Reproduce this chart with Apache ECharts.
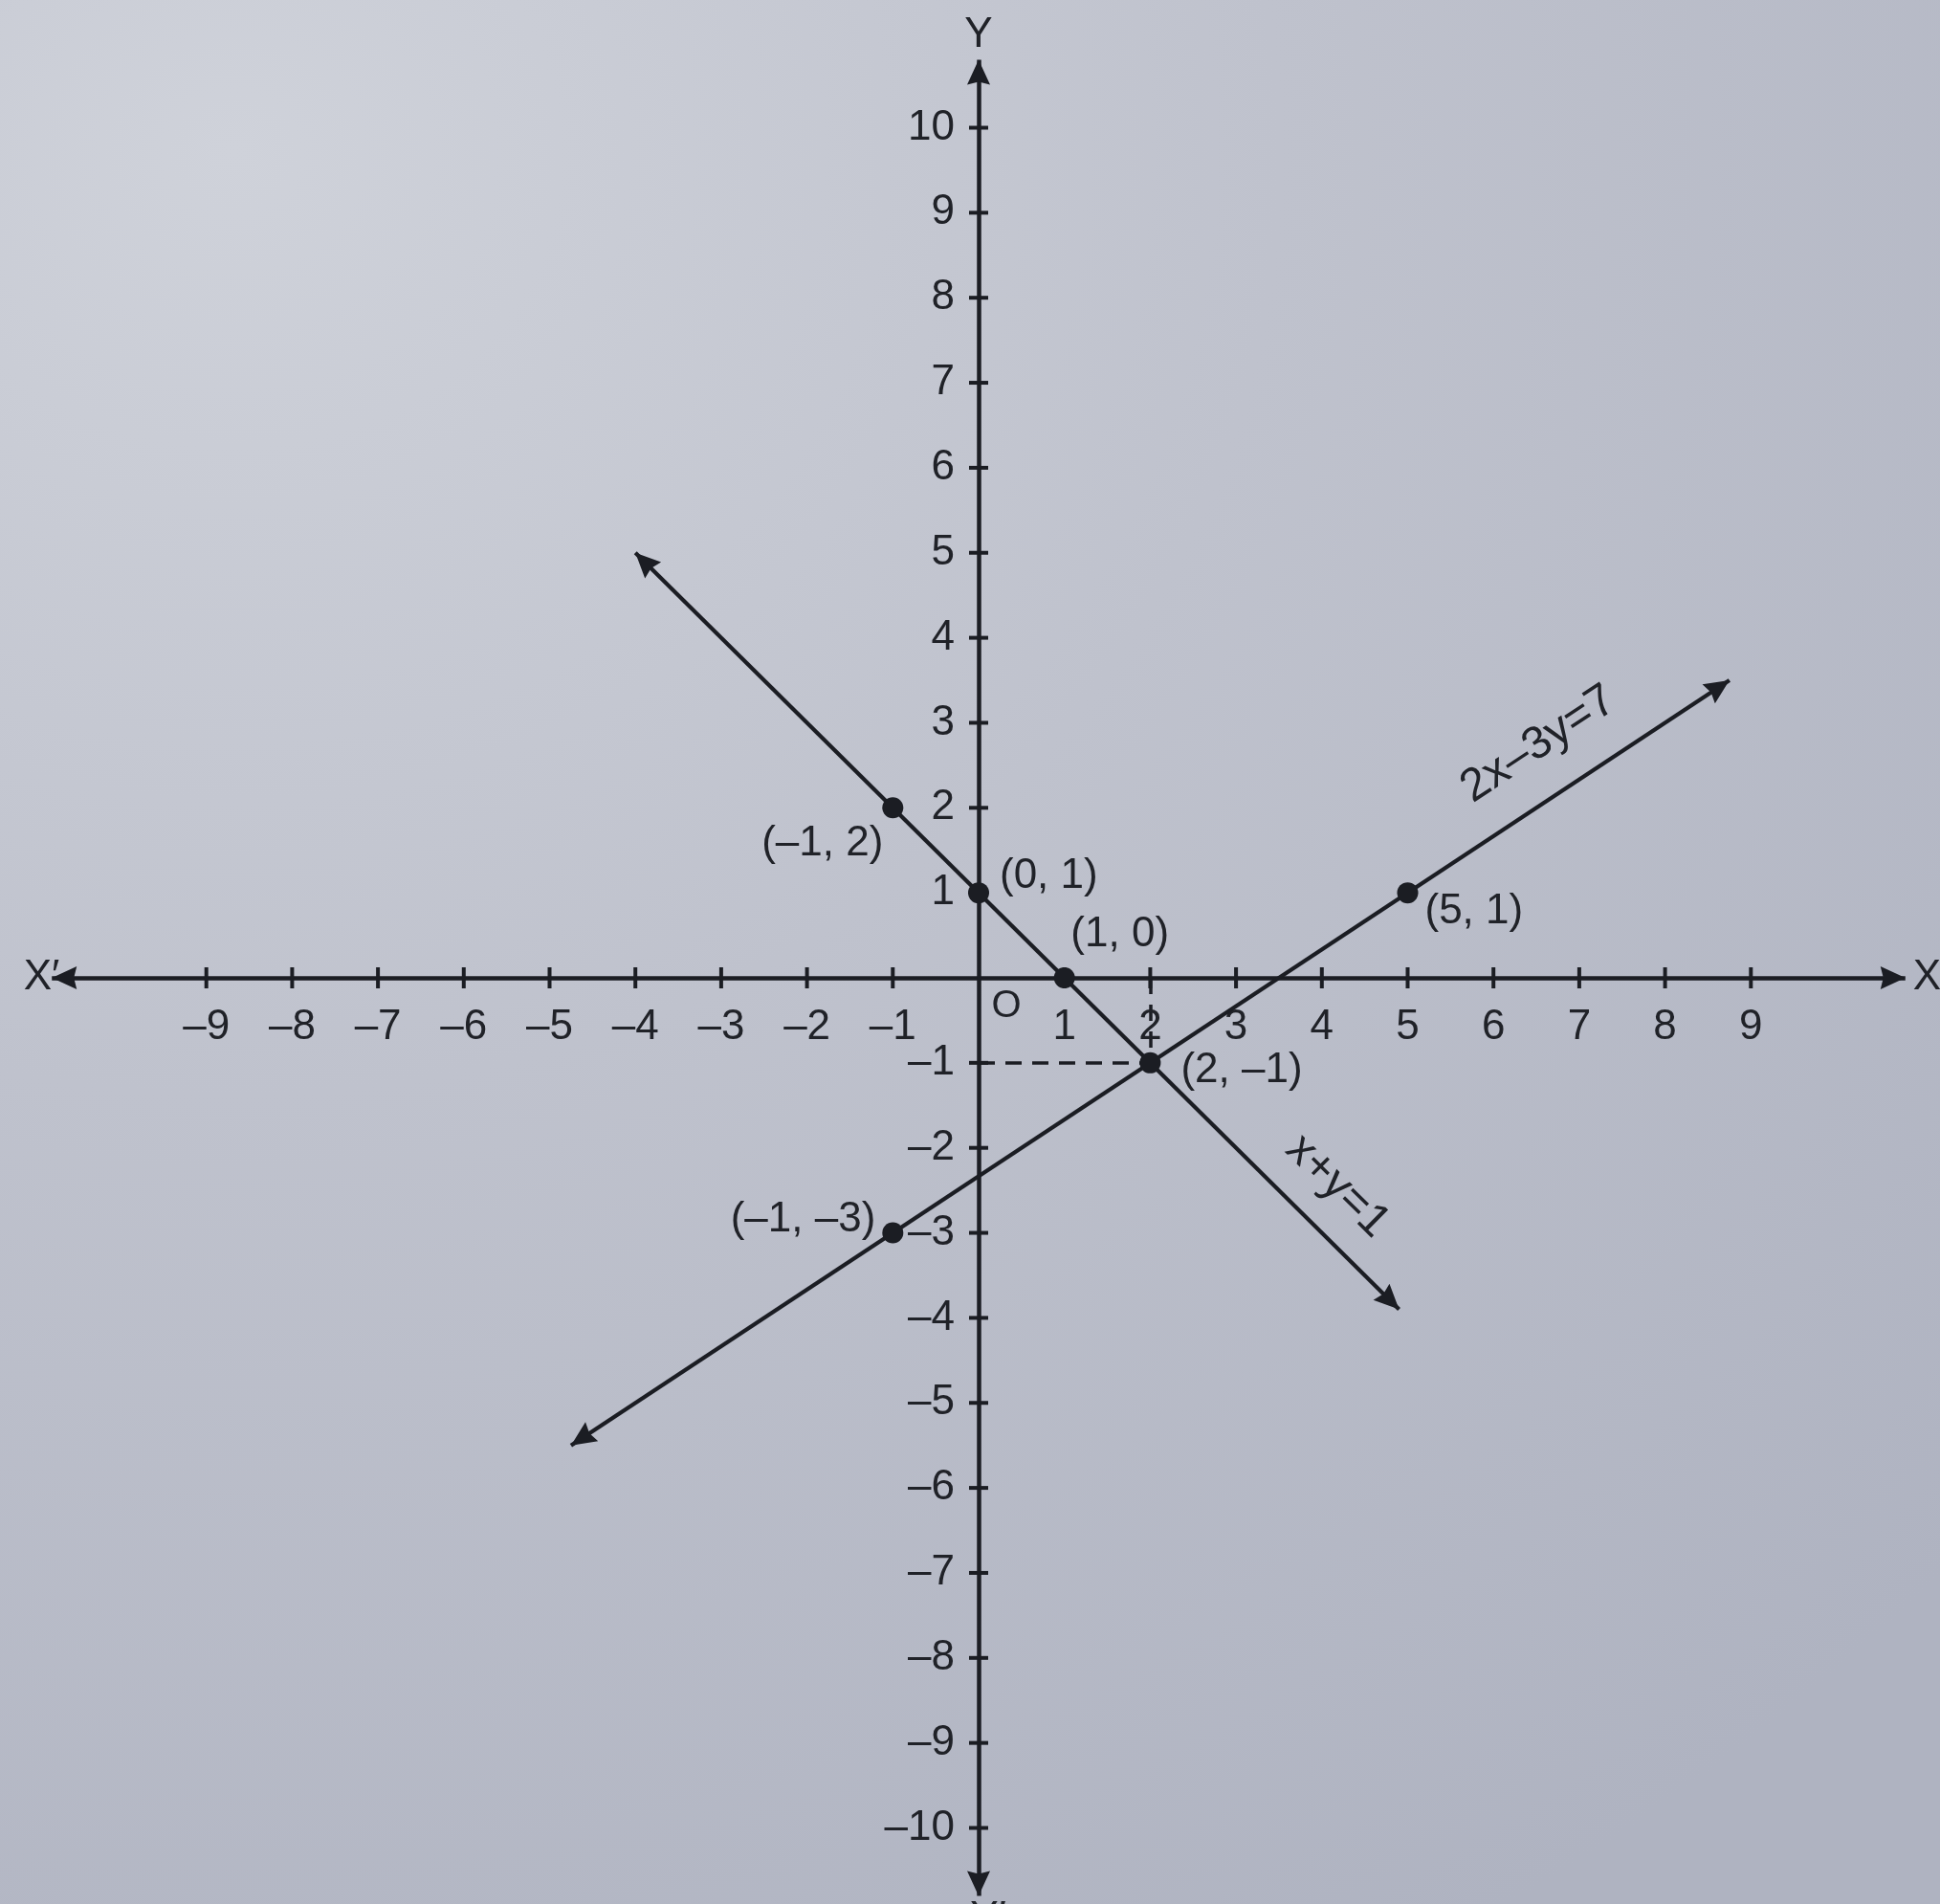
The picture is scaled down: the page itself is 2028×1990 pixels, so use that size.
<!DOCTYPE html>
<html>
<head>
<meta charset="utf-8">
<script src="https://cdn.jsdelivr.net/npm/echarts@6/dist/echarts.min.js"></script>
<style>
  html, body { margin: 0; padding: 0; }
  #chart {
    width: 2028px; height: 1990px;
    background: radial-gradient(ellipse 120% 110% at 12% 8%, #cfd2da 0%, #bfc2cd 45%, #afb3c1 100%);
  }
</style>
</head>
<body>
<div id="chart"></div>
<script>
// Axis ticks (the origin is marked with "O" instead of 0)
const xTicks = [-9, -8, -7, -6, -5, -4, -3, -2, -1, 1, 2, 3, 4, 5, 6, 7, 8, 9];
const yTicks = [-10, -9, -8, -7, -6, -5, -4, -3, -2, -1, 1, 2, 3, 4, 5, 6, 7, 8, 9, 10];

// Plotted points and their coordinate labels
const pointX = [-1, 0, 1, 2, 5, -1];
const pointY = [2, 1, 0, -1, 1, -3];
const pointLabels = ['(–1, 2)', '(0, 1)', '(1, 0)', '(2, –1)', '(5, 1)', '(–1, –3)'];

// x + y = 1, between its two arrow tips
const lineSum = [[-4, 5], [4.9, -3.9]];
// 2x − 3y = 7, between its two arrow tips
const lineDiff = [[-4.75, -5.5], [8.75, 3.5]];
const lineNames = ['x+y=1', '2x–3y=7'];

// Reach of the coordinate axes (arrow tips)
const axisReach = 10.8;

// Dashed guides to the intersection (2, −1)
const guideH = [[0, -1], [2, -1]];
const guideV = [[2, 0], [2, -1]];

const INK = '#1b1d23';
const TEXT = '#202228';
const FONT = '"Liberation Sans", Arial, Helvetica, sans-serif';

// Arrow head with its tip at the centre of the symbol box
const ARROW = 'path://M0,0M0,26L12,52L0,49L-12,52Z';
const ARROW_SIZE = [24, 52];

// Tick numbers use an en dash for the minus sign
const fmt = v => (v < 0 ? '–' + (-v) : String(v));

// Where each point label sits relative to its dot
const pointLabelPlacement = [
  { align: 'right', offset: [-10, 38] },
  { align: 'left', offset: [22, -17] },
  { align: 'center', offset: [58, -45] },
  { align: 'left', offset: [32, 8] },
  { align: 'left', offset: [18, 20] },
  { align: 'right', offset: [-18, -14] }
];
const lineLabelDistance = [[71, 22], [112, 30]];

const chart = echarts.init(document.getElementById('chart'), null, { renderer: 'canvas' });

const bareAxis = () => ({
  type: 'value', min: -11, max: 11, interval: 1,
  axisLine: { show: true, onZero: true, lineStyle: { color: 'rgba(0,0,0,0)', width: 0 } },
  axisTick: { show: false },
  splitLine: { show: false },
  axisLabel: { show: false }
});

const option = {
  backgroundColor: 'transparent',
  animation: false,
  grid: { left: 36.3, top: 44.65, width: 1973.4, height: 1954.7, containLabel: false, outerBoundsMode: 'none' },
  xAxis: Object.assign(bareAxis(), {
    name: 'X', nameLocation: 'end', nameGap: -10, nameMoveOverlap: false,
    nameTextStyle: { fontSize: 44, fontFamily: FONT, color: TEXT, verticalAlign: 'middle', align: 'left' }
  }),
  yAxis: Object.assign(bareAxis(), {
    name: 'Y', nameLocation: 'end', nameGap: -14, nameMoveOverlap: false,
    nameTextStyle: { fontSize: 44, fontFamily: FONT, color: TEXT, align: 'center' }
  }),
  series: [
    {
      // coordinate axes with arrows at both ends
      type: 'lines', coordinateSystem: 'cartesian2d', z: 2,
      symbol: [ARROW, ARROW], symbolSize: [ARROW_SIZE, ARROW_SIZE],
      lineStyle: { color: INK, width: 4.5, opacity: 1 },
      data: [
        { coords: [[-axisReach, 0], [axisReach, 0]] },
        { coords: [[0, -axisReach], [0, axisReach]] }
      ]
    },
    {
      // ticks and numbers on the x axis
      type: 'scatter', z: 3, symbol: 'rect', symbolSize: [4, 22],
      itemStyle: { color: INK, opacity: 1 }, silent: true,
      label: {
        show: true, position: 'bottom', distance: 19,
        fontSize: 44, fontFamily: FONT, color: TEXT,
        formatter: p => fmt(p.value[0])
      },
      data: xTicks.map(v => [v, 0])
    },
    {
      // ticks and numbers on the y axis
      type: 'scatter', z: 3, symbol: 'rect', symbolSize: [20, 4],
      itemStyle: { color: INK, opacity: 1 }, silent: true,
      label: {
        show: true, position: 'left', distance: 15,
        fontSize: 44, fontFamily: FONT, color: TEXT,
        formatter: p => fmt(p.value[1])
      },
      data: yTicks.map(v => [0, v])
    },
    {
      // dashed guides
      type: 'lines', coordinateSystem: 'cartesian2d', z: 3,
      symbol: ['none', 'none'],
      lineStyle: { color: INK, width: 3.5, type: [17, 11], opacity: 1 },
      data: [{ coords: guideH }, { coords: guideV }]
    },
    {
      // the two equations
      type: 'lines', coordinateSystem: 'cartesian2d', z: 4,
      symbol: [ARROW, ARROW], symbolSize: [ARROW_SIZE, ARROW_SIZE],
      lineStyle: { color: INK, width: 4.2, opacity: 1 },
      label: { show: true, position: 'insideEndTop', fontSize: 48, fontFamily: FONT, color: TEXT },
      data: [lineSum, lineDiff].map((c, i) => ({
        coords: c,
        label: { formatter: lineNames[i], distance: lineLabelDistance[i] }
      }))
    },
    {
      // plotted points
      type: 'scatter', z: 5, symbol: 'circle', symbolSize: 22,
      itemStyle: { color: INK, opacity: 1 },
      data: pointX.map((x, i) => ({
        value: [x, pointY[i]],
        label: {
          show: true, position: 'inside',
          formatter: pointLabels[i],
          align: pointLabelPlacement[i].align,
          verticalAlign: 'middle',
          offset: pointLabelPlacement[i].offset,
          fontSize: 44, fontFamily: FONT, color: TEXT, opacity: 1
        }
      }))
    }
  ]
};

chart.setOption(option);

// Origin mark and the negative-axis names
const origin = chart.convertToPixel({ gridIndex: 0 }, [0, 0]);
const leftTip = chart.convertToPixel({ gridIndex: 0 }, [-axisReach, 0]);
const bottomTip = chart.convertToPixel({ gridIndex: 0 }, [0, -axisReach]);
const txt = (text, x, y, align, vAlign, size) => ({
  type: 'text', z: 10, silent: true,
  style: {
    text, x, y, fill: TEXT, font: size + 'px ' + FONT,
    align, verticalAlign: vAlign, textAlign: align, textVerticalAlign: vAlign
  }
});
chart.setOption({
  graphic: [
    txt('O', origin[0] + 29, origin[1] + 30, 'center', 'middle', 40),
    txt('X′', leftTip[0] + 8, leftTip[1], 'right', 'middle', 44),
    txt('Y′', bottomTip[0] + 10, bottomTip[1] + 24, 'center', 'middle', 44)
  ]
});
</script>
</body>
</html>
